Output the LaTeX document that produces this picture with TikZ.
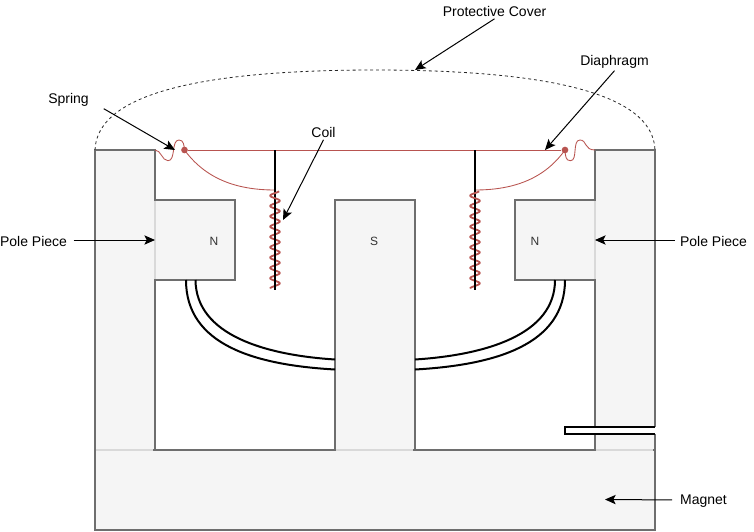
\documentclass[tikz,border=0pt]{standalone}
\usepackage{fontspec}
\setmainfont{Liberation Sans}
\usetikzlibrary{arrows.meta}
\definecolor{pieceFill}{HTML}{F5F5F5}
\definecolor{pieceLine}{HTML}{6E6E6E}
\definecolor{seamLine}{HTML}{D9D9D9}
\definecolor{redLine}{HTML}{B85450}
\tikzset{
  x=0.75pt, y=-0.75pt,
  piece/.style={draw=pieceLine, fill=pieceFill, line width=1.5pt, inner sep=0pt, outer sep=0pt},
  seam/.style={draw=seamLine, line width=1.5pt},
  lbl/.style={font=\fontsize{10.5}{12}\selectfont, inner sep=0pt, outer sep=0pt, text=black},
  pole/.style={font=\fontsize{9}{11}\selectfont, inner sep=0pt, outer sep=0pt, text=black!80},
  pointer/.style={draw=black, line width=0.75pt, -{Stealth[length=8pt,width=7pt,inset=1.8pt]}},
  redthin/.style={draw=redLine, line width=0.65pt},
  redrule/.style={draw=redLine, line width=0.75pt},
  wire/.style={draw=black, line width=1.5pt},
  bar/.style={draw=black, line width=1.5pt},
  coilline/.style={draw=redLine, line width=1.35pt, line join=round},
  reddot/.style={circle, fill=redLine, inner sep=0pt, minimum size=5pt},
  dome/.style={draw=black!85, line width=0.6pt, dash pattern=on 2.2pt off 2.2pt},
}
\begin{document}
\begin{tikzpicture}
\useasboundingbox (0,0) rectangle (754,532);
% magnet pieces
\node[piece, minimum width=420pt, minimum height=60pt] (base) at (374.7,490) {};
\node[piece, minimum width=45pt, minimum height=225pt] (colL) at (124.7,300) {};
\node[piece, minimum width=45pt, minimum height=225pt] (colR) at (624.7,300) {};
\node[piece, minimum width=60pt, minimum height=187.5pt] (south) at (374.7,325) {};
\node[piece, minimum width=60pt, minimum height=60pt] (northL) at (194.7,240) {};
\node[piece, minimum width=60pt, minimum height=60pt] (northR) at (554.7,240) {};
\node[pole] (nL) at (214,241) {N};
\node[pole] (nR) at (535,241) {N};
\node[pole] (sL) at (374,241) {S};
% seams
\draw[seam] ([yshift=-1pt]northL.north west) -- ([yshift=1pt]northL.south west);
\draw[seam] ([yshift=-1pt]northR.north east) -- ([yshift=1pt]northR.south east);
\draw[seam] ([xshift=1pt]colL.south west) -- ([xshift=-1pt]colL.south east);
\draw[seam] ([xshift=1pt]colR.south west) -- ([xshift=-1pt]colR.south east);
\draw[seam] ([xshift=1pt]south.south west) -- ([xshift=-1pt]south.south east);
% slit
\coordinate (slitTR) at (654.7,427);
\coordinate (slitTL) at (564.7,427);
\coordinate (slitBL) at (564.7,434);
\coordinate (slitBR) at (654.7,434);
\fill[white] (slitTL) rectangle ([xshift=1.2pt]slitBR);
\draw[wire] (slitTR) -- (slitTL) -- (slitBL) -- (slitBR);
% wires
\coordinate (wA) at (186,280); \coordinate (wB) at (195.5,280);
\coordinate (wC) at (565,280); \coordinate (wD) at (555,280);
\coordinate (sA) at (335,369.5); \coordinate (sB) at (335,359.5);
\coordinate (sC) at (415,369.5); \coordinate (sD) at (415,359.5);
\draw[wire] (wA) .. controls (186,345) and (255,365) .. (sA);
\draw[wire] (wB) .. controls (196,335) and (265,355) .. (sB);
\draw[wire] (wC) .. controls (565,345) and (495,365) .. (sC);
\draw[wire] (wD) .. controls (555,335) and (485,355) .. (sD);
% dome
\coordinate (domeL) at (95,150); \coordinate (domeT) at (375,70); \coordinate (domeR) at (655,150);
\draw[dome] (domeL) .. controls (97,90) and (215,70) .. (domeT) .. controls (535,70) and (653,90) .. (domeR);
% diaphragm
\node[reddot] (dotL) at (184.5,150) {};
\node[reddot] (dotR) at (565,150) {};
\draw[redrule] (dotL) -- (dotR);
\coordinate (sprL) at (155,150); \coordinate (sprR) at (595,150);
\draw[redthin] (sprL) .. controls (161,150) and (162,160.7) .. (168,160.7)
   .. controls (176,160.7) and (171,140) .. (179,140)
   .. controls (184,140) and (184,146) .. (dotL.center);
\draw[redthin] (dotR.center) .. controls (565.5,156) and (565.5,160.7) .. (570.5,160.7)
   .. controls (578,160.7) and (572,140) .. (580,140)
   .. controls (587,140) and (584,150) .. (sprR);
% coil
\coordinate (coilTopL) at (275,190); \coordinate (coilTopR) at (475,190);
\draw[redthin] (dotL.center) .. controls (205,178) and (235,190) .. (coilTopL);
\draw[redthin] (dotR.center) .. controls (545,178) and (515,190) .. (coilTopR);
\foreach \cx in {275,475}{
  \draw[bar] (\cx,150) -- (\cx,290);
  \draw[coilline] plot[smooth, samples=240, domain=30:3420] ({\cx+4.8*cos(\x)},{190.5+\x/3420*98});
  \draw[draw=black, line width=1.2pt] (\cx,200) -- (\cx,290);
}
% labels
\node[lbl, inner sep=2pt] (lCover) at (494.5,11) {Protective Cover};
\node[lbl, inner sep=2pt] (lDia) at (614.5,61.5) {Diaphragm};
\node[lbl] (lSpring) at (68.5,100) {Spring};
\node[lbl, inner sep=2pt] (lCoil) at (323.5,132) {Coil};
\node[lbl] (lPoleL) at (33.5,241) {Pole Piece};
\node[lbl] (lPoleR) at (713.5,241) {Pole Piece};
\node[lbl] (lMagnet) at (703.5,501) {Magnet};
\coordinate (tCover) at (415,70);
\coordinate (tDia) at (545,150);
\coordinate (tSpring) at (175,150);
\coordinate (tCoil) at (283,220);
\coordinate (tPoleL) at (155,240);
\coordinate (tPoleR) at (595,240);
\coordinate (tMagnet) at (605,499.5);
\draw[pointer] (lCover.south) -- (tCover);
\draw[pointer] (lDia.south) -- (tDia);
\draw[pointer, shorten <=13pt] (lSpring.east) -- (tSpring);
\draw[pointer] (lCoil.south) -- (tCoil);
\draw[pointer, shorten <=5pt] (lPoleL.east |- tPoleL) -- (tPoleL);
\draw[pointer, shorten <=4pt] (lPoleR.west |- tPoleR) -- (tPoleR);
\draw[pointer, shorten <=6pt] (lMagnet.west |- 0,500) -- (tMagnet);
\end{tikzpicture}
\end{document}
